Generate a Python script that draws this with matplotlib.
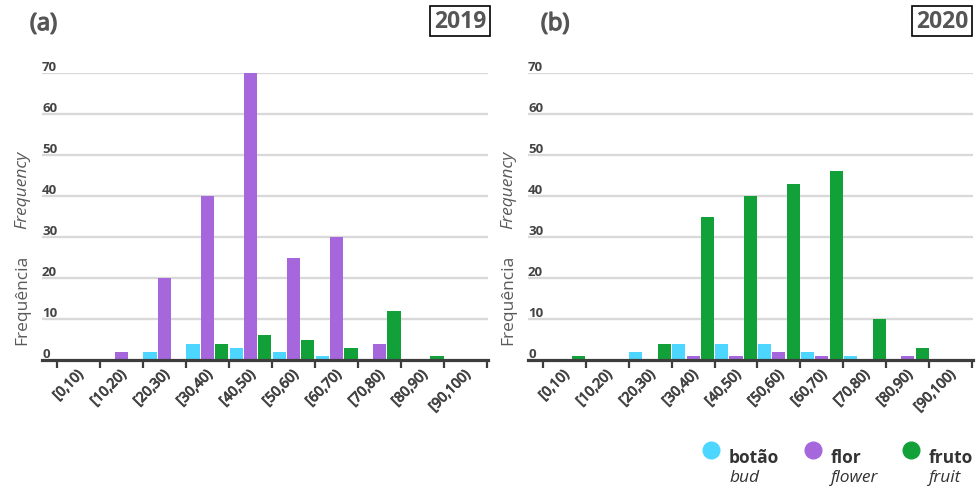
import matplotlib
matplotlib.use("Agg")
import matplotlib.pyplot as plt
import matplotlib.patheffects as pe
from matplotlib.lines import Line2D
from matplotlib.transforms import ScaledTranslation
import numpy as np

plt.rcParams['font.family'] = ['Open Sans', 'DejaVu Sans']

classes = ["[0,10)", "[10,20)", "[20,30)", "[30,40)", "[40,50)",
           "[50,60)", "[60,70)", "[70,80)", "[80,90)", "[90,100)"]

bud_2019 = [0, 0, 2, 4, 3, 2, 1, 0, 0, 0]
flower_2019 = [0, 2, 20, 40, 70, 25, 30, 4, 0, 0]
fruit_2019 = [0, 0, 0, 4, 6, 5, 3, 12, 1, 0]

bud_2020 = [0, 0, 2, 4, 4, 4, 2, 1, 0, 0]
flower_2020 = [0, 0, 0, 1, 1, 2, 1, 0, 1, 0]
fruit_2020 = [1, 0, 4, 35, 40, 43, 46, 10, 3, 0]

yticks = [0, 10, 20, 30, 40, 50, 60, 70]

c_bud = '#4dd6ff'
c_flower = '#a667dc'
c_fruit = '#12a139'
dark = '#3d3d3d'
txt = '#444444'

W, H = 980, 489
fig = plt.figure(figsize=(9.8, 4.89), dpi=100)


def px(x, y):
    # pixel position (from top-left) to figure fraction
    return x / W, 1 - y / H


def thicker(color, lw=0.6):
    # slightly heavier strokes than the regular face
    return [pe.withStroke(linewidth=lw, foreground=color)]


def panel(left, right, bud, flower, fruit, tag, year, tag_x, year_x):
    x0, y0 = px(left, 361)
    x1, y1 = px(right, 74)
    ax = fig.add_axes([x0, y0, x1 - x0, y1 - y0])
    centers = np.arange(len(classes)) + 0.5
    w = 0.305
    ax.bar(centers - 0.335, bud, w, color=c_bud, zorder=3)
    ax.bar(centers, flower, w, color=c_flower, zorder=3)
    ax.bar(centers + 0.335, fruit, w, color=c_fruit, zorder=3)

    ax.set_xlim(-0.345, 10.02)
    ax.set_ylim(0, 70)
    for s in ['top', 'right', 'left']:
        ax.spines[s].set_visible(False)
    ax.spines['bottom'].set_color(dark)
    ax.spines['bottom'].set_linewidth(2.3)
    ax.spines['bottom'].set_zorder(4)

    # ticks on class boundaries, labels in the middle of each class
    ax.set_xticks(np.arange(len(classes) + 1))
    ax.set_xticklabels([])
    ax.tick_params(axis='x', which='major', length=6, width=1.6, color=dark)
    ax.set_xticks(centers, minor=True)
    ax.set_xticklabels(classes, minor=True, rotation=45, ha='right',
                       va='center', rotation_mode='anchor', fontsize=10,
                       color=txt)
    ax.tick_params(axis='x', which='minor', length=0, pad=9)
    shift = ScaledTranslation(0.03, 0, fig.dpi_scale_trans)
    for lab in ax.get_xticklabels(minor=True):
        lab.set_transform(lab.get_transform() + shift)
        lab.set_path_effects(thicker(txt, 0.7))

    ax.set_yticks(yticks[1:])
    ax.set_yticklabels([])
    ax.tick_params(axis='y', length=0)
    ax.grid(axis='y', color='#d9d9d9', linewidth=1.7, zorder=0)
    ax.set_axisbelow(True)
    for v in yticks:
        ax.text(0.0, v + 0.75, str(v), transform=ax.get_yaxis_transform(),
                ha='left', va='baseline', fontsize=9.5, fontweight='bold',
                color=txt)

    lx = (left - 20) / W
    fig.text(lx, 1 - 190 / H, 'Frequency', rotation=90, style='italic',
             ha='center', va='center', fontsize=12.5, color='#5a5a5a')
    fig.text(lx, 1 - 300 / H, 'Frequência', rotation=90,
             ha='center', va='center', fontsize=12.5, color='#5a5a5a')

    fig.text(tag_x / W, 1 - 25 / H, tag, ha='left', va='center',
             fontsize=17, color='#555555',
             path_effects=thicker('#555555', 1.0))
    fig.text(year_x / W, 1 - 22 / H, year, ha='center', va='center',
             fontsize=16.5, fontweight='bold', color='#555555',
             bbox=dict(boxstyle='square,pad=0.15', facecolor='white',
                       edgecolor='black', linewidth=1.2))
    return ax


panel(42, 488, bud_2019, flower_2019, fruit_2019, '(a)', '2019', 30, 460)
panel(528, 973, bud_2020, flower_2020, fruit_2020, '(b)', '2020', 541, 942)

# legend
legend_items = [(711, c_bud, 'botão', 'bud'),
                (813, c_flower, 'flor', 'flower'),
                (911, c_fruit, 'fruto', 'fruit')]
for x, col, pt, en in legend_items:
    cx, cy = px(x, 451)
    fig.add_artist(Line2D([cx], [cy], marker='o', markersize=12,
                          color=col, linestyle='none',
                          transform=fig.transFigure))
    fig.text((x + 18) / W, 1 - 463 / H, pt, ha='left', va='baseline',
             fontsize=12.5, fontweight='bold', color='#333333')
    fig.text((x + 18) / W, 1 - 482 / H, en, ha='left', va='baseline',
             fontsize=12.5, style='italic', color='#333333')

fig.savefig('out.png', dpi=100)
